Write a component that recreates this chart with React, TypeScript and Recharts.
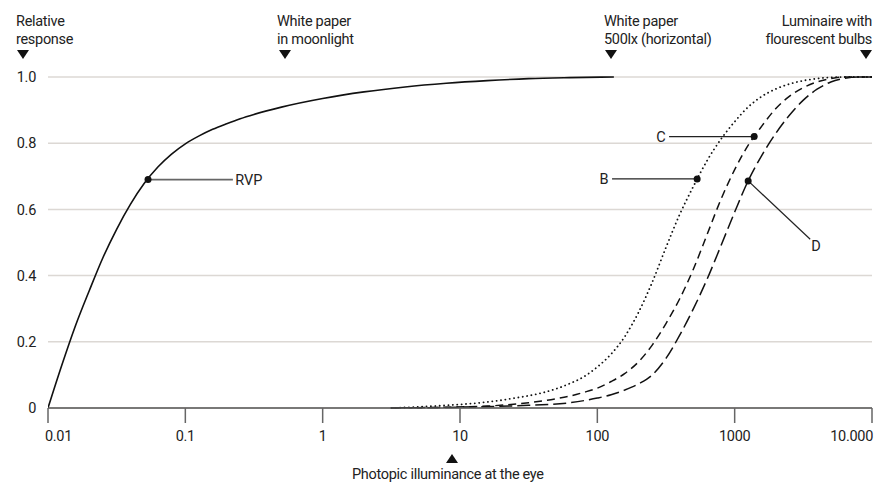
import React from 'react';
import {
  LineChart,
  Line,
  XAxis,
  YAxis,
  CartesianGrid,
  ReferenceLine,
  ReferenceDot,
} from 'recharts';

// ---------- data ----------
const xTicks = [0.01, 0.1, 1, 10, 100, 1000, 10000];
const xTickLabels = ['0.01', '0.1', '1', '10', '100', '1000', '10.000'];
const yTicks = [0, 0.2, 0.4, 0.6, 0.8, 1.0];
const yTickLabels = ['0', '0.2', '0.4', '0.6', '0.8', '1.0'];

const rvpX = [0.01, 0.0126, 0.0158, 0.02, 0.0251, 0.0316, 0.0398, 0.0501, 0.0631, 0.0794, 0.1, 0.126, 0.158, 0.2, 0.251, 0.316, 0.501, 1, 2, 3.98, 7.94, 15.8, 31.6, 63.1, 132];
const rvpY = [0, 0.129, 0.247, 0.355, 0.454, 0.54, 0.615, 0.678, 0.728, 0.767, 0.798, 0.822, 0.842, 0.859, 0.874, 0.887, 0.909, 0.935, 0.955, 0.97, 0.981, 0.989, 0.995, 0.998, 1.0];

const bX = [3.16, 7.94, 15.8, 25.1, 39.8, 50.1, 63.1, 79.4, 100, 126, 158, 200, 251, 316, 398, 501, 631, 794, 1000, 1259, 1585, 1995, 2512, 3162, 3981, 5012, 6310, 10000];
const bY = [0, 0.008, 0.018, 0.03, 0.046, 0.058, 0.074, 0.094, 0.124, 0.163, 0.215, 0.29, 0.38, 0.485, 0.585, 0.67, 0.748, 0.812, 0.865, 0.91, 0.942, 0.964, 0.979, 0.989, 0.995, 0.999, 1.0, 1.0];

const cX = [3.16, 15.8, 31.6, 50.1, 63.1, 79.4, 100, 126, 158, 200, 251, 316, 398, 501, 631, 794, 1000, 1259, 1585, 1995, 2512, 3162, 3981, 5012, 6310, 10000];
const cY = [0, 0.006, 0.016, 0.028, 0.036, 0.047, 0.06, 0.08, 0.104, 0.14, 0.19, 0.255, 0.33, 0.42, 0.525, 0.63, 0.72, 0.795, 0.853, 0.905, 0.942, 0.968, 0.985, 0.995, 1.0, 1.0];

const dX = [3.16, 31.6, 63.1, 100, 126, 158, 200, 251, 316, 398, 501, 631, 794, 1000, 1259, 1585, 1995, 2512, 3162, 3981, 5012, 6310, 7943, 10000];
const dY = [0, 0.008, 0.016, 0.03, 0.04, 0.054, 0.073, 0.1, 0.15, 0.22, 0.3, 0.39, 0.49, 0.592, 0.688, 0.765, 0.83, 0.885, 0.93, 0.963, 0.985, 0.996, 1.0, 1.0];

// marker points and labels (data coordinates)
const markers = [
  { name: 'RVP', x: 0.0535, y: 0.69, lineEndX: 0.222, lineEndY: 0.69, labelX: 0.29, labelY: 0.69 },
  { name: 'B', x: 533, y: 0.692, lineEndX: 128, lineEndY: 0.692, labelX: 112, labelY: 0.692 },
  { name: 'C', x: 1387, y: 0.82, lineEndX: 333, lineEndY: 0.82, labelX: 291, labelY: 0.82 },
  { name: 'D', x: 1254, y: 0.686, lineEndX: 3548, lineEndY: 0.51, labelX: 3908, labelY: 0.49 },
];

const zip = (xs: number[], ys: number[]) => xs.map((x, i) => ({ x, y: ys[i] }));
const rvpData = zip(rvpX, rvpY);
const bData = zip(bX, bY);
const cData = zip(cX, cY);
const dData = zip(dX, dY);

const FONT = 'Roboto, "Liberation Sans", sans-serif';
const FS = 14.5;
const LS = '-0.3px';
const TEXT = '#222';

const XTick = (props: any) => {
  const { x, y, payload } = props;
  const i = xTicks.indexOf(payload.value);
  const label = i >= 0 ? xTickLabels[i] : String(payload.value);
  let anchor: 'start' | 'middle' | 'end' = 'middle';
  let dx = 0;
  if (i === 0) { anchor = 'start'; dx = -3; }
  if (i === xTicks.length - 1) { anchor = 'end'; dx = 1; }
  return (
    <text x={x + dx} y={y + 16} textAnchor={anchor} fill={TEXT} fontSize={FS} fontFamily={FONT} letterSpacing={LS}>
      {label}
    </text>
  );
};

const Down = ({ left, top }: { left: number; top: number }) => (
  <div style={{ position: 'absolute', left: left - 6, top, width: 0, height: 0, borderLeft: '6px solid transparent', borderRight: '6px solid transparent', borderTop: '9px solid #111' }} />
);
const Up = ({ left, top }: { left: number; top: number }) => (
  <div style={{ position: 'absolute', left: left - 6, top, width: 0, height: 0, borderLeft: '6px solid transparent', borderRight: '6px solid transparent', borderBottom: '9px solid #111' }} />
);

const textStyle: React.CSSProperties = {
  position: 'absolute',
  fontFamily: FONT,
  fontSize: FS,
  letterSpacing: LS,
  lineHeight: '18px',
  color: TEXT,
  whiteSpace: 'nowrap',
};

export default function App() {
  return (
    <div style={{ position: 'absolute', left: 0, top: 0, width: 878, height: 487, background: '#fff' }}>
      <LineChart width={878} height={487} margin={{ top: 77, right: 6, bottom: 39, left: 18 }}>
        <CartesianGrid vertical={false} stroke="#dcd8d4" strokeWidth={1.5} />
        <XAxis
          type="number"
          dataKey="x"
          scale="log"
          domain={[0.01, 10000]}
          ticks={xTicks}
          allowDataOverflow
          height={40}
          stroke="#555"
          strokeWidth={1.5}
          tickSize={15}
          tickLine={{ stroke: '#666', strokeWidth: 1.5 }}
          tick={<XTick />}
          interval={0}
        />
        <YAxis
          type="number"
          domain={[0, 1]}
          ticks={yTicks}
          width={30}
          axisLine={false}
          tickLine={false}
          tickSize={0}
          tickMargin={12}
          tickFormatter={(v: number) => yTickLabels[yTicks.indexOf(v)] ?? String(v)}
          tick={{ fill: TEXT, fontSize: FS, fontFamily: FONT, letterSpacing: LS }}
        />
        <Line data={rvpData} dataKey="y" type="monotone" stroke="#111" strokeWidth={1.6} dot={false} activeDot={false} isAnimationActive={false} />
        <Line data={bData} dataKey="y" type="monotone" stroke="#111" strokeWidth={1.8} strokeDasharray="0.1 4.3" strokeLinecap="round" dot={false} activeDot={false} isAnimationActive={false} />
        <Line data={cData} dataKey="y" type="monotone" stroke="#111" strokeWidth={1.5} strokeDasharray="8 5" dot={false} activeDot={false} isAnimationActive={false} />
        <Line data={dData} dataKey="y" type="monotone" stroke="#111" strokeWidth={1.5} strokeDasharray="13 5" dot={false} activeDot={false} isAnimationActive={false} />
        {markers.map((m) => (
          <ReferenceLine
            key={'l' + m.name}
            segment={[{ x: m.x, y: m.y }, { x: m.lineEndX, y: m.lineEndY }]}
            stroke={m.name === 'RVP' ? '#666' : '#222'}
            strokeWidth={m.name === 'RVP' ? 1.6 : 1.2}
          />
        ))}
        {markers.map((m) => (
          <ReferenceDot key={'d' + m.name} x={m.x} y={m.y} r={3.5} fill="#111" stroke="none" />
        ))}
        {markers.map((m) => (
          <ReferenceDot
            key={'t' + m.name}
            x={m.labelX}
            y={m.labelY}
            r={0}
            fill="none"
            stroke="none"
            label={{ value: m.name, position: 'center', fill: TEXT, fontSize: FS, fontFamily: FONT }}
          />
        ))}
      </LineChart>

      {/* top annotations */}
      <div style={{ ...textStyle, left: 16, top: 13 }}>Relative<br />response</div>
      <Down left={22.5} top={50} />
      <div style={{ ...textStyle, left: 277, top: 13 }}>White paper<br />in moonlight</div>
      <Down left={284.5} top={50} />
      <div style={{ ...textStyle, left: 604, top: 13 }}>White paper<br />500lx (horizontal)</div>
      <Down left={611} top={50} />
      <div style={{ ...textStyle, right: 6, top: 13, textAlign: 'right' }}>Luminaire with<br />flourescent bulbs</div>
      <Down left={866} top={50} />

      {/* bottom annotation */}
      <Up left={451.5} top={454} />
      <div style={{ ...textStyle, left: 352, top: 466 }}>Photopic illuminance at the eye</div>
    </div>
  );
}
